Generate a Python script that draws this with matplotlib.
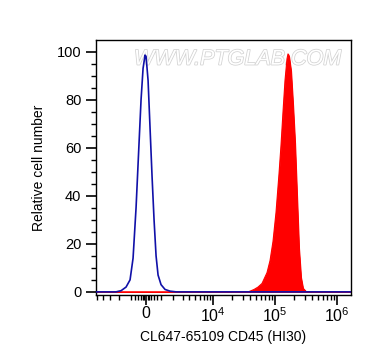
import numpy as np
import matplotlib
matplotlib.use("Agg")
import matplotlib.pyplot as plt
import matplotlib.patheffects as pe

plt.rcParams['font.family'] = ['Liberation Sans', 'DejaVu Sans']
plt.rcParams['mathtext.fontset'] = 'custom'
plt.rcParams['mathtext.rm'] = 'Liberation Sans'
plt.rcParams['mathtext.it'] = 'Liberation Sans'

# ---- data ----
blue_x = [-5200, -2260, -1770, -1350, -1046, -833, -631, -437, -310, -185, -62, 0,
          124, 248, 373, 500, 631, 765, 973, 1272, 1683, 2260, 1.7e6]
blue_y = [0, 0, 0.5, 2, 5, 14, 35, 62, 80, 93, 98.5, 98,
          88, 68, 48, 30, 15, 7, 3, 1, 0.3, 0, 0]

red_x = [-5200, 36650, 39480, 45800, 53100, 61600, 74200, 83000, 92700, 103600,
         115800, 124800, 134500, 144800, 156000, 161800, 168000, 180900, 194900,
         210000, 226100, 243500, 262300, 282500, 320000, 1.7e6]
red_y = [0, 0, 0.3, 1, 2, 3.5, 8, 13, 21, 33,
         49, 61, 75, 88, 97, 99, 98, 92, 78,
         62, 40, 18, 6, 1.5, 0, 0]

x_major = [0, 1e4, 1e5, 1e6]
x_major_labels = ['0', '$10^4$', '$10^5$', '$10^6$']
x_minor = [-5000, -4000, -3000, -2000, -1000, -700, -500, -300, -200, -100,
           100, 200, 300, 500, 700, 1000, 2000, 3000, 4000, 5000, 6000, 7000, 8000, 9000,
           2e4, 3e4, 4e4, 5e4, 6e4, 7e4, 8e4, 9e4,
           2e5, 3e5, 4e5, 5e5, 6e5, 7e5, 8e5, 9e5]
y_major = [0, 20, 40, 60, 80, 100]
y_minor = [5, 10, 15, 25, 30, 35, 45, 50, 55, 65, 70, 75, 85, 90, 95]

C = 1660.0
def fwd(x):
    return np.arcsinh(np.asarray(x, dtype=float) / C)
def inv(u):
    return C * np.sinh(np.asarray(u, dtype=float))

fig = plt.figure(figsize=(3.72, 3.64), dpi=100)
ax = fig.add_axes([96/372, 69/364, 255/372, 255/364])
ax.set_xscale('function', functions=(fwd, inv))
ax.set_xlim(-5200, 1.68e6)
ax.set_ylim(-1.3, 104.8)

ax.text(0.555, 0.925, 'WWW.PTGLAB.COM', transform=ax.transAxes, ha='center', va='center',
        fontsize=15.5, style='italic', color='white', zorder=1,
        path_effects=[pe.withStroke(linewidth=1.1, foreground='#d2d2d2')])

ax.fill_between(red_x, red_y, 0, color='#ff0000', lw=0.8, zorder=2)
ax.plot(red_x, red_y, color='#ff0000', lw=0.8, zorder=2)
ax.plot(blue_x, blue_y, color='#1010a8', lw=1.2, zorder=3)

ax.set_xticks(x_major)
ax.set_xticklabels(x_major_labels)
ax.set_xticks(x_minor, minor=True)
ax.set_yticks(y_major)
ax.set_yticks(y_minor, minor=True)

ax.tick_params(axis='both', which='major', direction='out', length=7, width=1.2,
               labelsize=10.5, colors='black')
ax.tick_params(axis='x', which='major', labelsize=11.5, pad=1)
ax.tick_params(axis='both', which='minor', direction='out', length=3.5, width=1)

for s in ax.spines.values():
    s.set_linewidth(1.0)

ax.set_ylabel('Relative cell number', fontsize=10, labelpad=8)
ax.set_xlabel('CL647-65109 CD45 (HI30)', fontsize=10, labelpad=4)

fig.savefig('out.png', dpi=100)
